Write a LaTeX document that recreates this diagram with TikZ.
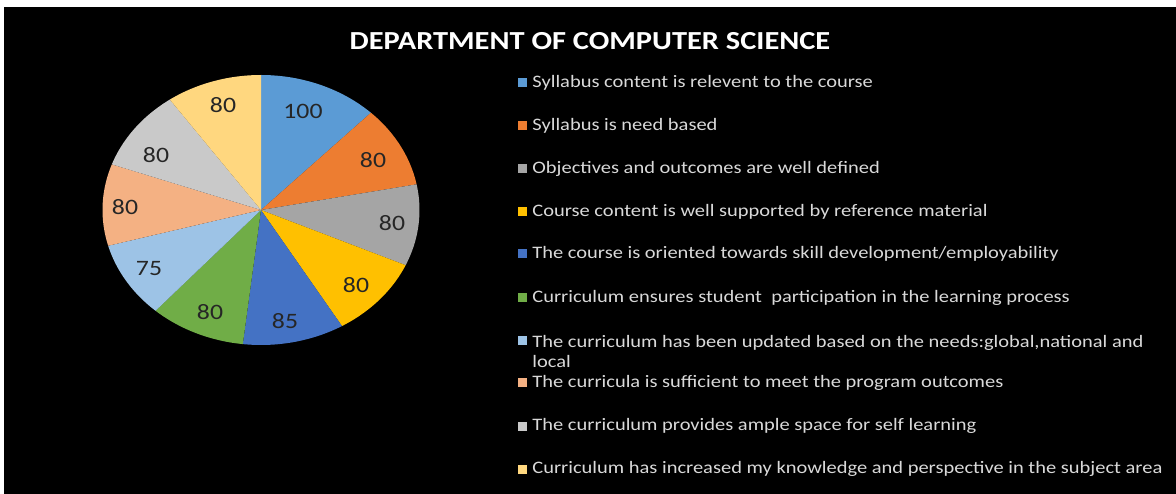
\documentclass[tikz,border=0pt]{standalone}
\usepackage{fontspec}
\setmainfont[FakeStretch=1.17]{Carlito}
\usetikzlibrary{positioning}

\definecolor{pieA}{HTML}{5B9BD5}
\definecolor{pieB}{HTML}{ED7D31}
\definecolor{pieC}{HTML}{A5A5A5}
\definecolor{pieD}{HTML}{FFC000}
\definecolor{pieE}{HTML}{4472C4}
\definecolor{pieF}{HTML}{70AD47}
\definecolor{pieG}{HTML}{9DC3E6}
\definecolor{pieH}{HTML}{F4B183}
\definecolor{pieI}{HTML}{C9C9C9}
\definecolor{pieJ}{HTML}{FFD77F}
\definecolor{legtext}{HTML}{D9D9D9}

% one slice of the (stretched) pie: start angle, end angle, colour
\newcommand{\pieslice}[3]{%
  \fill[#3] (261,210) -- plot[domain=#1:#2, samples=40]
    ({261+158.5*cos(\x)},{210-135*sin(\x)}) -- cycle;}

\begin{document}
\begin{tikzpicture}[
  x=1pt, y=-1pt,
  title/.style={text=white, font=\bfseries\fontsize{26}{30}\selectfont},
  val/.style={text=black!85, font=\fontsize{22}{26}\selectfont},
  key/.style={minimum size=9pt, inner sep=0pt},
  entry/.style={anchor=west, inner sep=0pt, text=legtext, align=left,
    font=\fontsize{17.5}{20}\selectfont}]

\useasboundingbox (0,0) rectangle (1176,494);
\fill[black] (4,7) rectangle (1176,494);

% Titulo
\node[title] (head) at (590,41) {DEPARTMENT OF COMPUTER SCIENCE};

% Fatias (100,80,80,80,85,80,75,80,80,80 de 820)
\pieslice{90}{46.098}{pieA}
\pieslice{46.098}{10.976}{pieB}
\pieslice{10.976}{-24.146}{pieC}
\pieslice{-24.146}{-59.268}{pieD}
\pieslice{-59.268}{-96.585}{pieE}
\pieslice{-96.585}{-131.707}{pieF}
\pieslice{-131.707}{-164.634}{pieG}
\pieslice{-164.634}{-199.756}{pieH}
\pieslice{-199.756}{-234.878}{pieI}
\pieslice{-234.878}{-270}{pieJ}

% Valores
\node[val] (v1) at (303,111) {100};
\node[val] (v2) at (373,160) {80};
\node[val] (v3) at (392,223) {80};
\node[val] (v4) at (356,285) {80};
\node[val] (v5) at (285,321) {85};
\node[val] (v6) at (210,312) {80};
\node[val] (v7) at (149,269) {75};
\node[val] (v8) at (125,207) {80};
\node[val] (v9) at (156,155) {80};
\node[val] (v10) at (223,105) {80};

% Legenda
\node[key, fill=pieA] (k1) at (522,83) {};
\node[key, fill=pieB] (k2) at (522,126) {};
\node[key, fill=pieC] (k3) at (522,169) {};
\node[key, fill=pieD] (k4) at (522,212) {};
\node[key, fill=pieE] (k5) at (522,254) {};
\node[key, fill=pieF] (k6) at (522,298) {};
\node[key, fill=pieG] (k7) at (522,341) {};
\node[key, fill=pieH] (k8) at (522,383) {};
\node[key, fill=pieI] (k9) at (522,426) {};
\node[key, fill=pieJ] (k10) at (522,469) {};

\node[entry, right=5.5pt of k1] (t1) {Syllabus content is relevent to the course};
\node[entry, right=5.5pt of k2] (t2) {Syllabus is need based};
\node[entry, right=5.5pt of k3] (t3) {Objectives and outcomes are well defined};
\node[entry, right=5.5pt of k4] (t4) {Course content is well supported by reference material};
\node[entry, right=5.5pt of k5] (t5) {The course is oriented towards skill development/employability};
\node[entry, right=5.5pt of k6] (t6) {Curriculum ensures student\ \ participation in the learning process};
\node[entry] (t7) at ([xshift=5.5pt, yshift=-10pt]k7.east)
  {The curriculum has been updated based on the needs:global,national and\\local};
\node[entry, right=5.5pt of k8] (t8) {The curricula is sufficient to meet the program outcomes};
\node[entry, right=5.5pt of k9] (t9) {The curriculum provides ample space for self learning};
\node[entry, right=5.5pt of k10] (t10) {Curriculum has increased my knowledge and perspective in the subject area};

\end{tikzpicture}
\end{document}
